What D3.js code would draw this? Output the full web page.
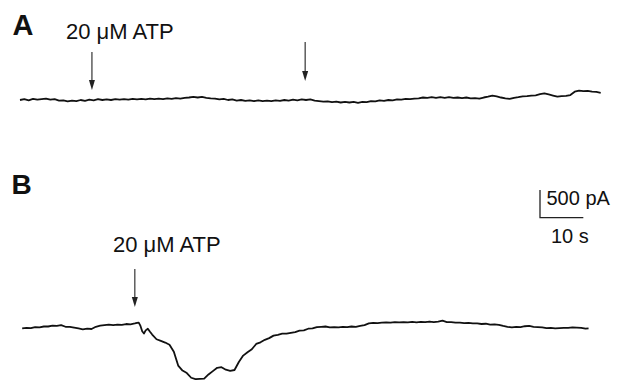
<!DOCTYPE html>
<html>
<head>
<meta charset="utf-8">
<script src="https://cdn.jsdelivr.net/npm/d3@7"></script>
<style>
  html, body { margin: 0; padding: 0; background: #fff; }
  svg { display: block; }
  text { font-family: "Liberation Sans", Arial, Helvetica, sans-serif; fill: #111; }
</style>
</head>
<body>
<svg id="chart" width="621" height="380"></svg>
<script>
// Whole-cell current, trace A (pA relative to holding baseline), sampled every 1 s
const traceA_pA = [
  0, 15, -5, 20, 5, 15, 25, 5, 15, -10,
  -5, -25, -10, -20, 0, -15, 5, -5, 15, 0,
  10, 0, 15, 5, 15, 5, 20, 10, 20, 10,
  25, 15, 25, 15, 30, 20, 35, 25, 40, 45,
  55, 45, 55, 40, 30, 25, 10, 20, 0, 10,
  -10, 0, -15, -5, -20, -5, -20, -10, -20, -5,
  -15, 0, -10, 5, -5, 10, 0, 10, -10, -20,
  -30, -25, -40, -30, -45, -35, -45, -35, -50, -35,
  -40, -20, -25, -5, -15, 0, -5, 10, 5, 20,
  15, 25, 30, 45, 40, 50, 40, 50, 40, 50,
  40, 45, 35, 45, 30, 35, 25, 45, 60, 80,
  65, 45, 30, 20, 40, 50, 65, 70, 80, 85,
  105, 120, 100, 80, 60, 70, 75, 90, 150, 170,
  160, 165, 150, 145, 130
];

// Trace B: sample times (s) and current (pA)
const traceB_time = [
  0.5, 1.5, 2.5, 3.5, 4.5, 5.5, 6.5, 7.5, 8.5, 9.5,
  10.5, 11.5, 12.5, 13.5, 14.5, 15.5, 16.5, 17.5, 18.5, 19.5,
  20.5, 21.5, 22.5, 23.5, 24.5, 25.5, 26.5,
  27.0, 27.4, 27.8, 28.2, 28.6, 29.0, 29.5, 30.0, 30.5,
  31.5, 32.5, 33.5, 34.5, 35.5, 36.5, 37.5, 38.5, 39.5, 40.5,
  41.5, 42.5, 43.5, 44.5, 45.5, 46.5, 47.5, 48.5, 49.5, 50.5,
  51.5, 52.5, 53.5, 54.5, 55.5, 56.5, 57.5, 58.5, 59.5, 60.5,
  61.5, 62.5, 63.5, 64.5, 65.5, 66.5, 67.5, 68.5, 69.5, 70.5,
  71.5, 72.5, 73.5, 74.5, 75.5, 76.5, 77.5, 78.5, 79.5, 80.5,
  81.5, 82.5, 83.5, 84.5, 85.5, 86.5, 87.5, 88.5, 89.5, 90.5,
  91.5, 92.5, 93.5, 94.5, 95.5, 96.5, 97.5, 98.5, 99.5, 100.5,
  101.5, 102.5, 103.5, 104.5, 105.5, 106.5, 107.5, 108.5, 109.5, 110.5,
  111.5, 112.5, 113.5, 114.5, 115.5, 116.5, 117.5, 118.5, 119.5, 120.5,
  121.5, 122.5, 123.5, 124.5, 125.5, 126.5, 127.5, 128.5, 129.5, 130.5,
  131.2
];
const traceB_pA = [
  10, 20, 15, 35, 30, 45, 45, 60, 55, 70,
  40, 40, 25, 10, -5, 5, 0, 40, 60, 70,
  80, 70, 80, 75, 90, 85, 100,
  110, 115, 55, -40, -80, -25, 5, -50, -100,
  -185, -215, -245, -285, -410, -660, -750, -795, -880, -905,
  -900, -895, -820, -760, -700, -690, -735, -755, -740, -595,
  -480, -420, -365, -270, -240, -195, -165, -120, -105, -85,
  -85, -70, -55, -30, -25, 5, 10, 35, 40, 45,
  30, 35, 30, 40, 35, 45, 40, 55, 70, 100,
  110, 105, 115, 120, 115, 125, 120, 125, 120, 130,
  120, 130, 125, 135, 125, 135, 150, 125, 125, 115,
  115, 105, 110, 100, 100, 90, 95, 80, 85, 75,
  55, 40, 30, 40, 35, 50, 55, 40, 35, 30,
  15, 20, 10, 15, 20, 20, 30, 25, 20, 5,
  10
];

// ATP application times (s)
const atpTimesA = [16.6, 65.8];
const atpTimesB = [26.5];
const atpLabel = "20 \u03BCM ATP";
const panelLabels = ["A", "B"];
const scaleBarTime = 10;      // s
const scaleBarCurrent = 500;  // pA
const scaleBarLabels = ["500 pA", "10 s"];

const svg = d3.select("#chart");

// Shared time axis, one current axis per panel
const x = d3.scaleLinear().domain([0, 134]).range([20, 600.7]);
const yA = d3.scaleLinear().domain([0, scaleBarCurrent]).range([100, 72.3]);
const yB = d3.scaleLinear().domain([0, scaleBarCurrent]).range([329, 301.3]);

const ink = "#111";

const lineA = d3.line()
  .x((d, i) => x(i))
  .y(d => yA(d))
  .curve(d3.curveLinear);

const lineB = d3.line()
  .x(d => x(d[0]))
  .y(d => yB(d[1]))
  .curve(d3.curveLinear);

svg.append("path")
  .datum(traceA_pA)
  .attr("d", lineA)
  .attr("fill", "none")
  .attr("stroke", ink)
  .attr("stroke-width", 1.8)
  .attr("stroke-linejoin", "round");

svg.append("path")
  .datum(d3.zip(traceB_time, traceB_pA))
  .attr("d", lineB)
  .attr("fill", "none")
  .attr("stroke", ink)
  .attr("stroke-width", 1.8)
  .attr("stroke-linejoin", "round");

// Downward arrows marking ATP application
function arrow(xPos, yTop, yTip) {
  const g = svg.append("g");
  g.append("line")
    .attr("x1", xPos).attr("x2", xPos)
    .attr("y1", yTop).attr("y2", yTip - 8)
    .attr("stroke", "#222").attr("stroke-width", 1.1);
  g.append("path")
    .attr("d", `M${xPos - 3},${yTip - 10} L${xPos + 3},${yTip - 10} L${xPos},${yTip} Z`)
    .attr("fill", "#222");
}
arrow(x(atpTimesA[0]), 52, 90);
arrow(x(atpTimesA[1]), 42, 81);
arrow(x(atpTimesB[0]), 269, 307);

// ATP labels
svg.append("text")
  .attr("x", 66).attr("y", 38.5)
  .attr("font-size", 22)
  .text(atpLabel);
svg.append("text")
  .attr("x", 113).attr("y", 252)
  .attr("font-size", 22)
  .text(atpLabel);

// Panel letters
svg.append("text")
  .attr("x", 12.5).attr("y", 34.5)
  .attr("font-size", 29).attr("font-weight", "bold")
  .text(panelLabels[0]);
svg.append("text")
  .attr("x", 11.5).attr("y", 194)
  .attr("font-size", 28).attr("font-weight", "bold")
  .text(panelLabels[1]);

// Scale bar
const sbX = 540, sbBottom = 217.7;
const sbW = x(scaleBarTime) - x(0);
const sbH = yB(0) - yB(scaleBarCurrent);
svg.append("path")
  .attr("d", `M${sbX},${sbBottom - sbH} L${sbX},${sbBottom} L${sbX + sbW},${sbBottom}`)
  .attr("fill", "none")
  .attr("stroke", "#222")
  .attr("stroke-width", 1.3);
svg.append("text")
  .attr("x", 546.5).attr("y", 205)
  .attr("font-size", 20)
  .text(scaleBarLabels[0]);
svg.append("text")
  .attr("x", 551).attr("y", 243)
  .attr("font-size", 20)
  .text(scaleBarLabels[1]);
</script>
</body>
</html>
